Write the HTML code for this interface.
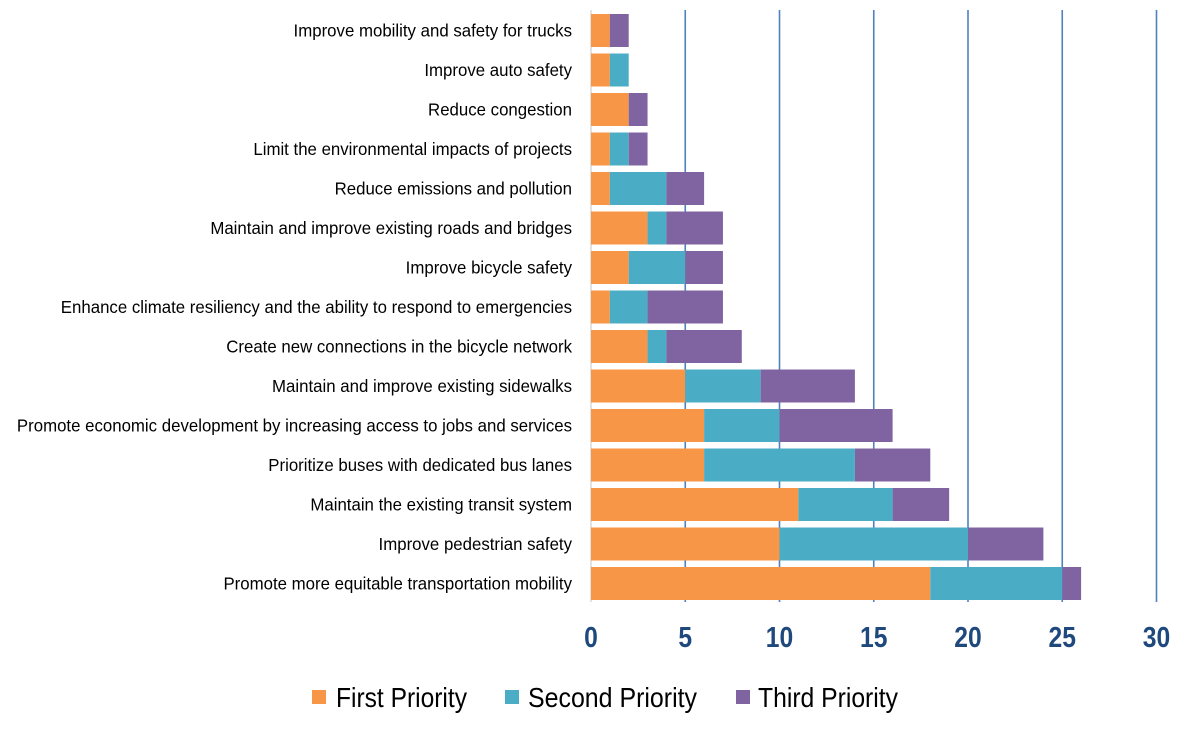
<!DOCTYPE html>
<html><head><meta charset="utf-8"><style>
html,body{margin:0;padding:0;background:#fff;}
svg{display:block;font-family:"Liberation Sans",Arial,sans-serif;}
</style></head><body>
<svg id="c" width="1200" height="736" viewBox="0 0 1200 736" xmlns="http://www.w3.org/2000/svg"></svg>
<script>
const s=document.getElementById('c');
const labels=["Improve mobility and safety for trucks","Improve auto safety","Reduce congestion","Limit the environmental impacts of projects","Reduce emissions and pollution","Maintain and improve existing roads and bridges","Improve bicycle safety","Enhance climate resiliency and the ability to respond to emergencies","Create new connections in the bicycle network","Maintain and improve existing sidewalks","Promote economic development by increasing access to jobs and services","Prioritize buses with dedicated bus lanes","Maintain the existing transit system","Improve pedestrian safety","Promote more equitable transportation mobility"];
const d=[[1,0,1],[1,1,0],[2,0,1],[1,1,1],[1,3,2],[3,1,3],[2,3,2],[1,2,4],[3,1,4],[5,4,5],[6,4,6],[6,8,4],[11,5,3],[10,10,4],[18,7,1]];
const col=["#F79646","#4BACC6","#8064A2"];
const x0=591,k=18.85;
let h='';
for(let t=5;t<=30;t+=5){const x=x0+t*k;h+=`<line x1="${x}" y1="10" x2="${x}" y2="602" stroke="#4F81BD" stroke-width="1.6"/>`;}
h+=`<line x1="${x0}" y1="10" x2="${x0}" y2="602" stroke="#d9d9d9" stroke-width="1.5"/>`;
d.forEach((r,i)=>{const y=14+i*39.5;let x=x0;r.forEach((v,j)=>{if(v>0){h+=`<rect x="${x}" y="${y}" width="${v*k}" height="33" fill="${col[j]}"/>`;x+=v*k;}});
 h+=`<text transform="translate(572,${y+22.5}) scale(0.935,1)" text-anchor="end" font-size="18" fill="#000">${labels[i]}</text>`;});
for(let t=0;t<=30;t+=5){const x=x0+t*k;h+=`<text transform="translate(${x},647) scale(0.85,1)" text-anchor="middle" font-size="29" font-weight="bold" fill="#1F497D">${t}</text>`;}
const lg=[[312,336,131,"First Priority"],[505,528,169,"Second Priority"],[736,758,140,"Third Priority"]];
lg.forEach((l,i)=>{h+=`<rect x="${l[0]}" y="690" width="14" height="14" fill="${col[i]}"/><text x="${l[1]}" y="707" font-size="28" textLength="${l[2]}" lengthAdjust="spacingAndGlyphs" fill="#000">${l[3]}</text>`;});
s.innerHTML=h;
</script>
</body></html>
